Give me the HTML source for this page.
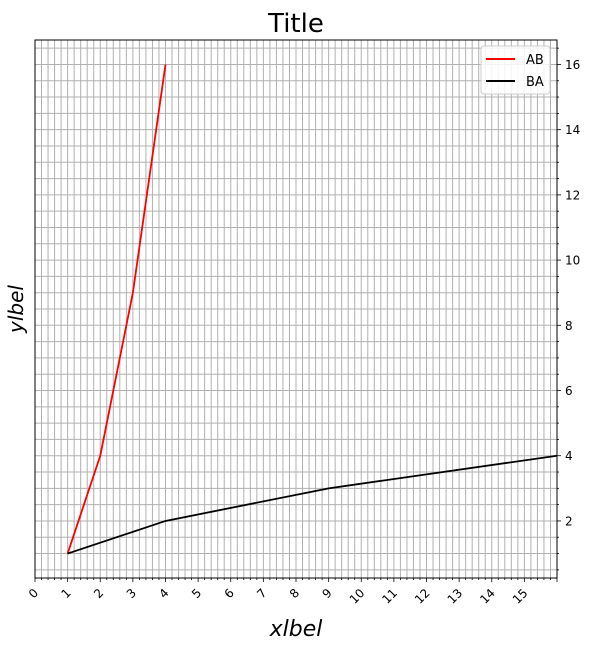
<!DOCTYPE html>
<html><head><meta charset="utf-8"><style>
body{margin:0;background:#fff;font-family:"Liberation Sans","DejaVu Sans",sans-serif;}
</style></head><body>
<svg id="chart" width="594" height="651" xmlns="http://www.w3.org/2000/svg" font-family="DejaVu Sans, Liberation Sans, sans-serif">
<rect width="594" height="651" fill="#fff"/>
<text x="296" y="32" font-size="26" text-anchor="middle">Title</text>
<text x="296" y="636" font-size="22" font-style="italic" text-anchor="middle">xlbel</text>
<text x="0" y="0" font-size="20" font-style="italic" text-anchor="middle" transform="translate(23,309) rotate(-90)">ylbel</text>
<g id="grid"></g>
<g id="ticks"></g>
<g id="series"></g>
<rect x="35" y="40" width="522" height="538" fill="none" stroke="#000" stroke-width="1"/>
<g>
<rect x="481" y="46" width="69" height="48" rx="3" fill="#fff" fill-opacity="0.85" stroke="#ccc"/>
<g><line x1="486" y1="59" x2="515" y2="59" stroke="red" stroke-width="2"/><text x="526" y="64" font-size="13">AB</text></g>
<g><line x1="486" y1="81" x2="515" y2="81" stroke="#000" stroke-width="2"/><text x="526" y="86" font-size="13">BA</text></g>
</g>
</svg>
<script>
const xTicks=[0,1,2,3,4,5,6,7,8,9,10,11,12,13,14,15];
const yTicks=[2,4,6,8,10,12,14,16];
const abX=[1,2,3,4];
const abY=[1,4,9,16];
const baX=[1,4,9,16];
const baY=[1,2,3,4];
const X0=35,X1=557,Y0=578,Y1=40,xmin=0,xmax=16,ymin=0.25,ymax=16.75;
function sx(v){return X0+(v-xmin)/(xmax-xmin)*(X1-X0);}
function sy(v){return Y0-(v-ymin)/(ymax-ymin)*(Y0-Y1);}
const NS="http://www.w3.org/2000/svg";
function mk(t,a,p){const e=document.createElementNS(NS,t);for(const k in a)e.setAttribute(k,a[k]);p.appendChild(e);return e;}
const grid=document.getElementById('grid'),ticks=document.getElementById('ticks'),series=document.getElementById('series');
for(let i=0;i<=80;i++){const v=i*0.2;const x=sx(v);
 const l=mk('line',{x1:x,x2:x,y1:Y1,y2:Y0,stroke:'#b0b0b0','stroke-width':1},grid);
 
 
 const t=mk('line',{x1:x,x2:x,y1:Y0,y2:Y0+(i%5==0?4:2),stroke:'#000','stroke-width':0.8},ticks);
 
 }
for(let v=0.5;v<=16.5;v+=0.5){const y=sy(v);
 const l=mk('line',{x1:X0,x2:X1,y1:y,y2:y,stroke:'#b0b0b0','stroke-width':1},grid);
 
 
 const t=mk('line',{x1:X1,x2:X1+(v%2==0?4:2),y1:y,y2:y,stroke:'#000','stroke-width':0.8},ticks);
 
 }
xTicks.forEach(v=>{const x=sx(v),y=Y0+14;
 const t=mk('text',{x:x,y:y,'font-size':12,'text-anchor':'end',transform:`rotate(-45 ${x+4} ${y-4})`},ticks);
 t.textContent=v;
 
 });
yTicks.forEach(v=>{const t=mk('text',{x:X1+8,y:sy(v)+4.5,'font-size':12},ticks);
 t.textContent=v;
 
 });
function line(xs,ys,c,n){const p=mk('polyline',{points:xs.map((x,i)=>sx(x)+','+sy(ys[i])).join(' '),fill:'none',stroke:c,'stroke-width':1.8},series);
 
 }
line(abX,abY,'red','series-ab-line');
line(baX,baY,'#000','series-ba-line');
</script>
</body></html>
